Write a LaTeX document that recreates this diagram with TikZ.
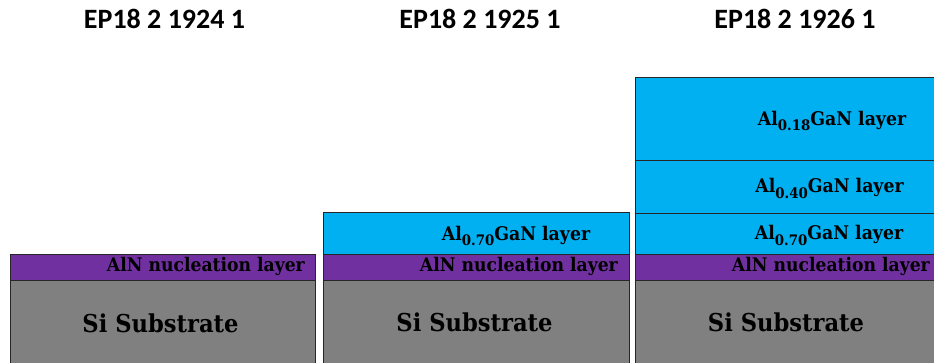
\documentclass[tikz,border=0pt]{standalone}
\usepackage{fontspec}
\newfontfamily\titlefont{Carlito}
\newfontfamily\layerfont[FakeStretch=0.92]{DejaVu Serif}
\definecolor{aln}{HTML}{7030A0}
\definecolor{algan}{HTML}{00B0F0}
\definecolor{sisub}{HTML}{808080}
\newcommand{\alsub}[1]{Al\raisebox{-0.28em}{\fontsize{14.5}{14.5}\selectfont #1}GaN layer}
\tikzset{
  layer/.style={draw=black!85, line width=0.8pt},
  ttl/.style={font=\titlefont\bfseries\fontsize{28}{28}\selectfont, anchor=base},
  alnlbl/.style={font=\layerfont\bfseries\fontsize{18.7}{19}\selectfont, anchor=base east, inner sep=0pt},
  ganlbl/.style={font=\layerfont\bfseries\fontsize{18.8}{19}\selectfont, anchor=base, inner sep=0pt},
  sublbl/.style={font=\layerfont\bfseries\fontsize{24.6}{25}\selectfont, anchor=base, inner sep=0pt},
}
\begin{document}
\begin{tikzpicture}[x=1pt,y=-1pt]
\useasboundingbox (0,0) rectangle (934,363);
\clip (0,0) rectangle (934,363);
% stack 1
\filldraw[layer, fill=sisub] (10,280) rectangle (315.5,370);
\filldraw[layer, fill=aln] (10,254) rectangle (315.5,280);
% stack 2
\filldraw[layer, fill=sisub] (323,280) rectangle (629,370);
\filldraw[layer, fill=aln] (323,254) rectangle (629,280);
\filldraw[layer, fill=algan] (323,212.5) rectangle (629,254);
% stack 3
\filldraw[layer, fill=sisub] (635.5,280) rectangle (945,370);
\filldraw[layer, fill=aln] (635.5,254) rectangle (945,280);
\filldraw[layer, fill=algan] (635.5,213) rectangle (945,254);
\filldraw[layer, fill=algan] (635.5,160) rectangle (945,213);
\filldraw[layer, fill=algan] (635.5,77.5) rectangle (945,160);
% titles
\node[ttl] (t1) at (164.5,29) {EP18 2 1924 1};
\node[ttl] (t2) at (480,29) {EP18 2 1925 1};
\node[ttl] (t3) at (795,29) {EP18 2 1926 1};
% labels
\node[alnlbl] (a1) at (305,272) {AlN nucleation layer};
\node[alnlbl] (a2) at (618,272) {AlN nucleation layer};
\node[alnlbl] (a3) at (930,272) {AlN nucleation layer};
\node[sublbl] (s1) at (160.5,332) {Si Substrate};
\node[sublbl] (s2) at (474.5,331) {Si Substrate};
\node[sublbl] (s3) at (786,331) {Si Substrate};
\node[ganlbl] (g2) at (516,240.5) {\alsub{0.70}};
\node[ganlbl] (g3a) at (829,240) {\alsub{0.70}};
\node[ganlbl] (g3b) at (829.5,193) {\alsub{0.40}};
\node[ganlbl] (g3c) at (832,125.5) {\alsub{0.18}};
\end{tikzpicture}
\end{document}
